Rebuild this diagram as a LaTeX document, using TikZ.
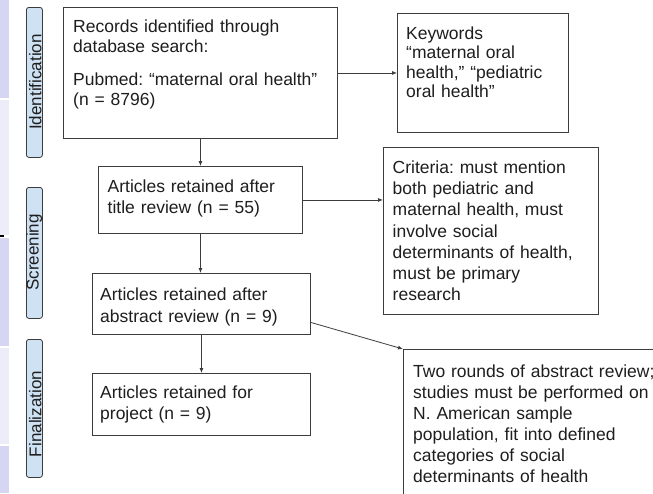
\documentclass[tikz,border=0pt]{standalone}
\usepackage{fontspec}
\setmainfont{Liberation Sans}
\usetikzlibrary{arrows.meta}
\frenchspacing
\definecolor{stripdark}{RGB}{214,214,242}
\definecolor{striplight}{RGB}{237,237,250}
\definecolor{phasefill}{RGB}{207,226,243}
\definecolor{edgecol}{RGB}{60,60,60}
\definecolor{txtcol}{RGB}{30,30,30}
\tikzset{
  box/.style={draw=edgecol, line width=0.9pt, inner sep=0pt, anchor=north west},
  phasebox/.style={draw=edgecol, fill=phasefill, rounded corners=2.5pt, line width=0.8pt, inner sep=0pt, anchor=north west, minimum width=16pt},
  phasetext/.style={rotate=90, anchor=base, inner sep=0pt, text=txtcol, font=\fontsize{17}{20}\selectfont},
  txt/.style={inner sep=0pt, anchor=north west, align=left, text=txtcol, text width=#1},
  arr/.style={draw=edgecol, line width=0.8pt, -{Latex[length=5pt,width=4pt]}}
}
\begin{document}
\begin{tikzpicture}[x=1pt,y=-1pt]
\clip (0,0) rectangle (653,493);
\fill[white] (0,0) rectangle (653,493);
% left strip
\fill[stripdark]  (0,0) rectangle (8.5,98);
\fill[striplight] (0,100) rectangle (8.5,235);
\fill[stripdark]  (0,237.5) rectangle (8.5,346);
\fill[striplight] (0,348) rectangle (8.5,444);
\fill[stripdark]  (0,446) rectangle (8.5,493);
\draw[black, line width=2pt] (0,236) -- (3.5,236);
% phase labels
\node[phasebox, minimum height=150pt] (pid) at (26,7) {};
\node[phasetext] (pidt) at (41.3,82) {Identification};
\node[phasebox, minimum height=131pt] (psc) at (26,187) {};
\node[phasetext] (psct) at (38.5,252.5) {Screening};
\node[phasebox, minimum height=138pt] (pfi) at (26,339) {};
\node[phasetext] (pfit) at (41.3,414) {Finalization};
% boxes
\node[box, minimum width=274pt, minimum height=131pt] (b1) at (63,7) {};
\node[txt=260pt, font=\fontsize{17.5}{20}\selectfont] (t1) at (73,19.4)
  {Records identified through\\database search:\\[13pt]Pubmed: “maternal oral health”\\(n = 8796)};
\node[box, minimum width=171pt, minimum height=119pt] (kw) at (397,13) {};
\node[txt=160pt, font=\fontsize{17.5}{19.5}\selectfont] (tkw) at (406,26.4)
  {Keywords\\“maternal oral\\health,” “pediatric\\oral health”};
\node[box, minimum width=204pt, minimum height=67pt] (b2) at (98,166) {};
\node[txt=200pt, font=\fontsize{17.5}{21}\selectfont] (t2) at (107.5,180)
  {Articles retained after\\title review (n = 55)};
\node[box, minimum width=215pt, minimum height=167pt] (crit) at (383,147) {};
\node[txt=205pt, font=\fontsize{17.5}{21.2}\selectfont] (tcrit) at (392.5,160.7)
  {Criteria: must mention\\both pediatric and\\maternal health, must\\involve social\\determinants of health,\\must be primary\\research};
\node[box, minimum width=218pt, minimum height=61pt] (b3) at (92,273) {};
\node[txt=210pt, font=\fontsize{17.5}{21.5}\selectfont] (t3) at (100,287.7)
  {Articles retained after\\abstract review (n = 9)};
\node[box, minimum width=218pt, minimum height=62pt] (b4) at (92,373) {};
\node[txt=210pt, font=\fontsize{17.5}{21}\selectfont] (t4) at (100,386)
  {Articles retained for\\project (n = 9)};
\node[box, minimum width=300pt, minimum height=200pt] (fin) at (403,349) {};
\node[txt=250pt, font=\fontsize{17.5}{21}\selectfont] (tfin) at (413,365)
  {Two rounds of abstract review;\\studies must be performed on\\N. American sample\\population, fit into defined\\categories of social\\determinants of health};
% connectors
\draw[arr] (b1.south) -- (b1.south |- b2.north);
\draw[arr] (b2.south) -- (b2.south |- b3.north);
\draw[arr] (b3.south) -- (b3.south |- b4.north);
\draw[arr] (b1.east) -- (b1.east -| kw.west);
\draw[arr] (b2.east) -- (b2.east -| crit.west);
\draw[arr] ([yshift=-18.5pt]b3.east) -- (fin.north west);
\end{tikzpicture}
\end{document}
